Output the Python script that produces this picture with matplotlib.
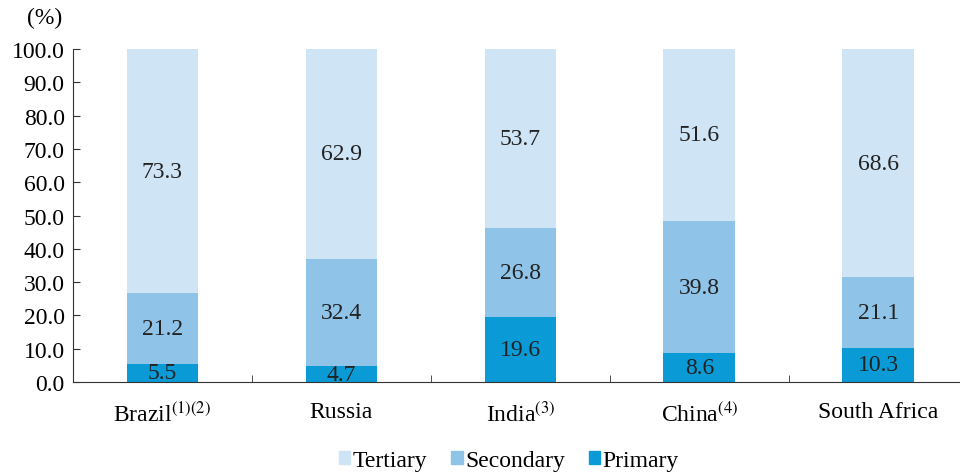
import matplotlib.pyplot as plt
from matplotlib.patches import Patch
from matplotlib.ticker import FixedLocator

plt.rcParams['font.family'] = ['Liberation Serif', 'DejaVu Serif']
plt.rcParams['mathtext.fontset'] = 'stix'

countries = [r'Brazil$^{\mathrm{(1)(2)}}$', 'Russia', r'India$^{\mathrm{(3)}}$',
             r'China$^{\mathrm{(4)}}$', 'South Africa']
primary = [5.5, 4.7, 19.6, 8.6, 10.3]
secondary = [21.2, 32.4, 26.8, 39.8, 21.1]
tertiary = [73.3, 62.9, 53.7, 51.6, 68.6]

c_prim = '#0a9ad6'
c_sec = '#8fc3e8'
c_ter = '#cfe4f5'

fig = plt.figure(figsize=(9.6, 4.77), dpi=100)
ax = fig.add_axes([0.076, 0.197, 0.932, 0.698])

x = list(range(len(countries)))
w = 0.4
ax.bar(x, primary, w, color=c_prim)
base2 = primary
ax.bar(x, secondary, w, bottom=base2, color=c_sec)
base3 = [p + s for p, s in zip(primary, secondary)]
ax.bar(x, tertiary, w, bottom=base3, color=c_ter)

fs = 17
for i in x:
    ax.text(i, primary[i] / 2, f'{primary[i]:.1f}', ha='center', va='center', fontsize=fs, color='#222222')
    ax.text(i, base2[i] + secondary[i] / 2, f'{secondary[i]:.1f}', ha='center', va='center', fontsize=fs, color='#222222')
    ax.text(i, base3[i] + tertiary[i] / 2, f'{tertiary[i]:.1f}', ha='center', va='center', fontsize=fs, color='#222222')

ax.set_xlim(-0.5, 4.5)
ax.set_ylim(0, 100)
ax.set_yticks(range(0, 101, 10))
ax.set_yticklabels([f'{v:.1f}' for v in range(0, 101, 10)], fontsize=fs)
ax.set_xticks(x)
ax.set_xticklabels(countries, fontsize=fs)
ax.xaxis.set_minor_locator(FixedLocator([0.5, 1.5, 2.5, 3.5]))
ax.tick_params(axis='x', which='major', length=0, pad=14)
ax.tick_params(axis='x', which='minor', direction='in', length=5, color='#333333')
ax.tick_params(axis='y', direction='in', length=5, color='#333333', pad=6)

for s in ['top', 'right']:
    ax.spines[s].set_visible(False)
for s in ['left', 'bottom']:
    ax.spines[s].set_color('#333333')

fig.text(0.065, 0.962, '(%)', ha='right', va='center', fontsize=fs)

handles = [Patch(color=c_ter, label='Tertiary'),
           Patch(color=c_sec, label='Secondary'),
           Patch(color=c_prim, label='Primary')]
fig.legend(handles=handles, loc='center', bbox_to_anchor=(0.53, 0.033), ncol=3,
           frameon=False, fontsize=fs, handlelength=0.5, handleheight=0.5,
           handletextpad=0.1, columnspacing=1.0)

fig.savefig('out.png', dpi=100)
